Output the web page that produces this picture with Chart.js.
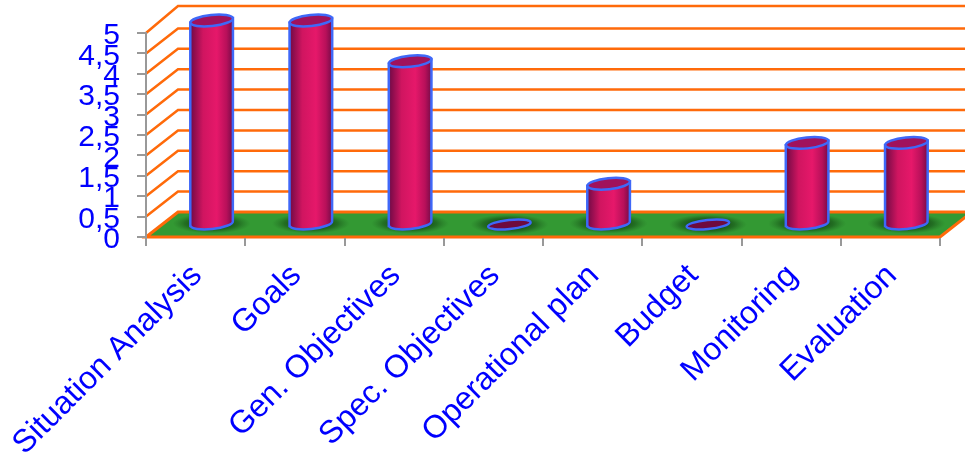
<!DOCTYPE html>
<html>
<head>
<meta charset="utf-8">
<style>
  html, body { margin: 0; padding: 0; background: #fff; overflow: hidden; }
  canvas { display: block; filter: blur(0.4px); }
</style>
<script src="https://cdn.jsdelivr.net/npm/chart.js@4/dist/chart.umd.min.js"></script>
</head>
<body>
<canvas id="chart" width="965" height="455"></canvas>
<script>
const categories = ['Situation Analysis', 'Goals', 'Gen. Objectives', 'Spec. Objectives', 'Operational plan', 'Budget', 'Monitoring', 'Evaluation'];
const scores = [5, 5, 4, 0, 1, 0, 2, 2];
const gridValues = [0, 0.5, 1, 1.5, 2, 2.5, 3, 3.5, 4, 4.5, 5];

const ORANGE = '#ff6a0a';
const BLUE = '#0000ff';
const EDGE = '#3f68f8';
const DEPTH_X = 32;
const DEPTH_Y = -25;
const TILT = -6 * Math.PI / 180;
const CAP_RY = 5.5;

// floor and back wall, hung on the real scales
const wallPlugin = {
  id: 'wall',
  beforeDraw(chart) {
    const { ctx, scales: { y }, chartArea: { left, right } } = chart;
    const y0 = y.getPixelForValue(0);
    ctx.save();
    ctx.lineCap = 'round';
    ctx.strokeStyle = ORANGE;
    ctx.lineWidth = 2.5;
    gridValues.forEach((v) => {
      if (v === 0) return;
      const py = y.getPixelForValue(v);
      const backY = py + DEPTH_Y - (v === 5 ? 2 : 0);
      ctx.beginPath();
      ctx.moveTo(left, py);
      ctx.lineTo(left + DEPTH_X, backY);
      ctx.lineTo(chart.width + 5, backY);
      ctx.stroke();
    });
    ctx.beginPath();
    ctx.moveTo(left, y0);
    ctx.lineTo(left + DEPTH_X, y0 + DEPTH_Y);
    ctx.lineTo(right + DEPTH_X, y0 + DEPTH_Y);
    ctx.lineTo(right, y0);
    ctx.closePath();
    ctx.fillStyle = '#339933';
    ctx.fill();
    ctx.lineWidth = 3;
    ctx.stroke();
    ctx.restore();
  }
};

function drawShadow(ctx, cx, cy) {
  ctx.save();
  ctx.translate(cx, cy);
  ctx.scale(1, 0.26);
  const g = ctx.createRadialGradient(0, 0, 12, 0, 0, 39);
  g.addColorStop(0, 'rgba(10,40,10,0.8)');
  g.addColorStop(0.55, 'rgba(15,60,15,0.45)');
  g.addColorStop(1, 'rgba(30,90,30,0)');
  ctx.fillStyle = g;
  ctx.beginPath();
  ctx.arc(0, 0, 39, 0, Math.PI * 2);
  ctx.fill();
  ctx.restore();
}

function drawCylinder(ctx, bar) {
  const cx = bar.x;
  const rx = bar.width / 2;
  const dy = rx * Math.tan(-TILT);
  drawShadow(ctx, cx, bar.base);
  ctx.lineWidth = 2.5;
  ctx.strokeStyle = EDGE;
  if (bar.base - bar.y < 1) {
    ctx.beginPath();
    ctx.ellipse(cx, bar.base, rx, CAP_RY - 1, TILT, 0, Math.PI * 2);
    ctx.fillStyle = '#6e0a3e';
    ctx.fill();
    ctx.stroke();
    return;
  }
  const g = ctx.createLinearGradient(cx - rx, 0, cx + rx, 0);
  g.addColorStop(0, '#6f0a45');
  g.addColorStop(0.3, '#d01560');
  g.addColorStop(0.62, '#e6186a');
  g.addColorStop(0.85, '#b8105a');
  g.addColorStop(1, '#760b48');
  ctx.beginPath();
  ctx.moveTo(cx - rx, bar.y + dy);
  ctx.lineTo(cx - rx, bar.base + dy);
  ctx.ellipse(cx, bar.base, rx, CAP_RY, TILT, Math.PI, 0, true);
  ctx.lineTo(cx + rx, bar.y - dy);
  ctx.closePath();
  ctx.fillStyle = g;
  ctx.fill();
  ctx.stroke();
  ctx.beginPath();
  ctx.ellipse(cx, bar.y, rx, CAP_RY, TILT, 0, Math.PI * 2);
  ctx.fillStyle = '#a0125c';
  ctx.fill();
  ctx.stroke();
}

// bars stand halfway into the floor, so shift them by half the depth
const cylinderPlugin = {
  id: 'cylinders',
  beforeDatasetDraw(chart, args) {
    const { ctx } = chart;
    ctx.save();
    ctx.translate(DEPTH_X / 2, DEPTH_Y / 2);
    args.meta.data.forEach((bar) => drawCylinder(ctx, bar));
    ctx.restore();
    return false;
  }
};

new Chart(document.getElementById('chart'), {
  type: 'bar',
  data: {
    labels: categories,
    datasets: [{ data: scores, backgroundColor: '#e6186a', barPercentage: 0.43, categoryPercentage: 1 }]
  },
  options: {
    responsive: false,
    animation: false,
    layout: { padding: { top: 33, right: 25, left: 0, bottom: 0 } },
    plugins: { legend: { display: false }, tooltip: { enabled: false } },
    scales: {
      x: {
        afterFit(scale) { scale.height = 218; scale.paddingLeft = 0; scale.paddingRight = 0; },
        border: { color: ORANGE, width: 2 },
        grid: { drawOnChartArea: false, color: '#999999', lineWidth: 2, tickLength: 9 },
        ticks: {
          color: BLUE,
          font: { family: '"Liberation Sans", Arial, sans-serif', size: 32 },
          minRotation: 45,
          maxRotation: 45,
          autoSkip: false,
          padding: 11,
          labelOffset: 1.5
        }
      },
      y: {
        min: 0,
        max: 5,
        afterFit(scale) { scale.width = 146; scale.paddingTop = 0; scale.paddingBottom = 0; },
        border: { color: '#999999', width: 2 },
        grid: { drawOnChartArea: false, color: '#999999', lineWidth: 2, tickLength: 9 },
        ticks: {
          stepSize: 0.5,
          autoSkip: false,
          color: BLUE,
          font: { family: '"Liberation Sans", Arial, sans-serif', size: 30 },
          padding: 17,
          labelOffset: 3,
          callback: (v) => String(v).replace('.', ',')
        }
      }
    }
  },
  plugins: [wallPlugin, cylinderPlugin]
});
</script>
</body>
</html>
